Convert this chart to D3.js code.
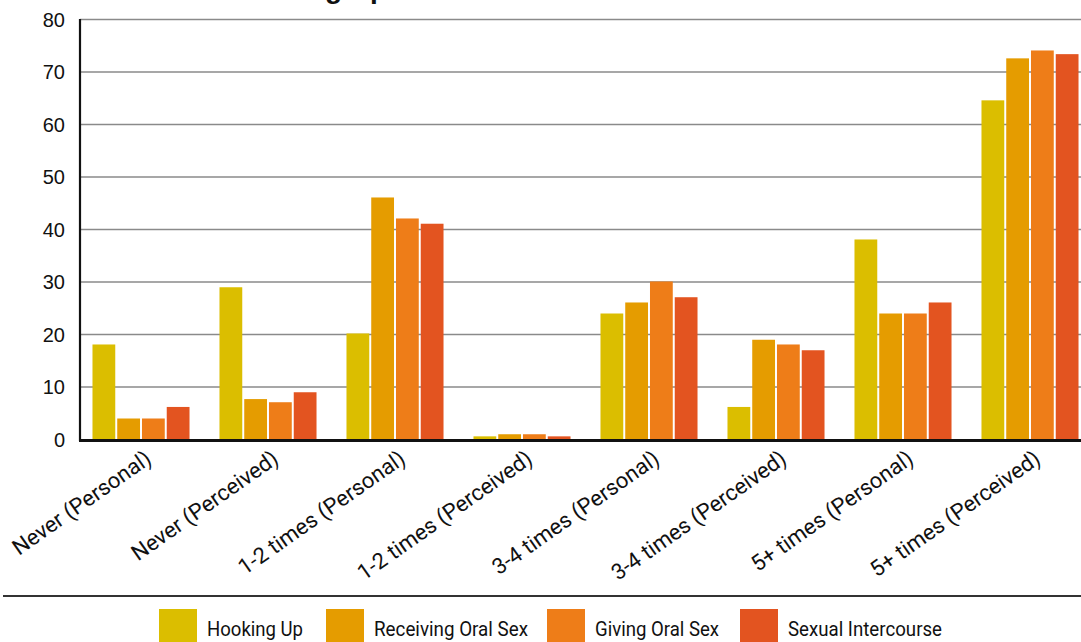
<!DOCTYPE html>
<html>
<head>
<meta charset="utf-8">
<script src="https://cdn.jsdelivr.net/npm/d3@7"></script>
<style>
html,body{margin:0;padding:0;background:#fff;overflow:hidden;}
svg{display:block;}
</style>
</head>
<body>
<svg id="chart" width="1081" height="642"></svg>
<script>
const categories = ["Never (Personal)","Never (Perceived)","1-2 times (Personal)","1-2 times (Perceived)","3-4 times (Personal)","3-4 times (Perceived)","5+ times (Personal)","5+ times (Perceived)"];
const seriesNames = ["Hooking Up","Receiving Oral Sex","Giving Oral Sex","Sexual Intercourse"];
const seriesColors = ["#dbbe00","#e59c00","#ee7d18","#e35420"];
const hookingUp   = [18.1, 29.0, 20.2, 0.6, 24.0, 6.2, 38.1, 64.6];
const receivingOral = [4.0, 7.7, 46.1, 1.0, 26.1, 19.0, 24.0, 72.6];
const givingOral  = [4.0, 7.1, 42.1, 1.0, 30.1, 18.1, 24.0, 74.1];
const intercourse = [6.2, 9.0, 41.1, 0.6, 27.1, 17.0, 26.1, 73.4];
const yTicks = [0,10,20,30,40,50,60,70,80];
const legendTextWidths = [96, 154, 124, 154];

const seriesValues = [hookingUp, receivingOral, givingOral, intercourse];
const svg = d3.select("#chart");

// partially visible title at the very top (cut off in the reference)
svg.append("text").attr("x", 230).attr("y", -2)
  .attr("font-family","Liberation Sans, Arial, sans-serif").attr("font-weight","bold")
  .attr("font-size", 28).attr("fill","#111").text("Hooking Up");

const y = d3.scaleLinear().domain([0,80]).range([439.5, 19.5]);
const x0 = d3.scaleBand().domain(categories).range([77.5, 1093.5]).paddingInner(0.236).paddingOuter(0.118);
const x1 = d3.scaleBand().domain(seriesNames).range([0, x0.bandwidth()]).paddingInner(0.08);

// gridlines
svg.append("g").selectAll("line").data(yTicks.filter(d => d > 0)).join("line")
  .attr("x1", 80).attr("x2", 1081)
  .attr("y1", d => y(d)).attr("y2", d => y(d))
  .attr("stroke", "#8a8a8a").attr("stroke-width", 1.6);

// y tick labels
svg.append("g").selectAll("text").data(yTicks).join("text")
  .attr("x", 65).attr("y", d => y(d)).attr("dy","0.36em")
  .attr("text-anchor","end")
  .attr("font-family","Liberation Sans, Arial, sans-serif").attr("font-size", 20).attr("fill","#111")
  .text(d => d);

// bars
const groups = svg.append("g").selectAll("g").data(categories).join("g")
  .attr("transform", d => `translate(${x0(d)},0)`);
groups.selectAll("rect").data((c, i) => seriesNames.map((s, j) => ({s, j, v: seriesValues[j][i]}))).join("rect")
  .attr("x", d => x1(d.s)).attr("width", x1.bandwidth())
  .attr("y", d => y(d.v)).attr("height", d => y(0) - y(d.v))
  .attr("fill", d => seriesColors[d.j]);

// axes lines
svg.append("line").attr("x1", 80).attr("x2", 80).attr("y1", 19).attr("y2", 441)
  .attr("stroke","#111").attr("stroke-width", 2.2);
svg.append("line").attr("x1", 79).attr("x2", 1081).attr("y1", 440.5).attr("y2", 440.5)
  .attr("stroke","#111").attr("stroke-width", 3);

// category labels
svg.append("g").selectAll("text").data(categories).join("text")
  .attr("transform", d => `translate(${x0(d) + x0.bandwidth()/2 + 12},${462}) rotate(-35)`)
  .attr("text-anchor","end")
  .attr("font-family","Roboto, sans-serif").attr("font-size", 22).attr("fill","#111")
  .text(d => d);

// separator line
svg.append("line").attr("x1", 3).attr("x2", 1081).attr("y1", 596).attr("y2", 596)
  .attr("stroke","#333").attr("stroke-width", 2);

// legend
const legendX = [159, 326, 547, 740];
const lg = svg.append("g").selectAll("g").data(seriesNames).join("g")
  .attr("transform", (d, i) => `translate(${legendX[i]},609)`);
lg.append("rect").attr("width", 38).attr("height", 38).attr("fill", (d, i) => seriesColors[i]);
lg.append("text").attr("x", 48).attr("y", 27)
  .attr("font-family","Roboto, sans-serif").attr("font-size", 21).attr("fill","#111")
  .attr("textLength", (d, i) => legendTextWidths[i]).attr("lengthAdjust","spacingAndGlyphs")
  .text(d => d);
</script>
</body>
</html>
